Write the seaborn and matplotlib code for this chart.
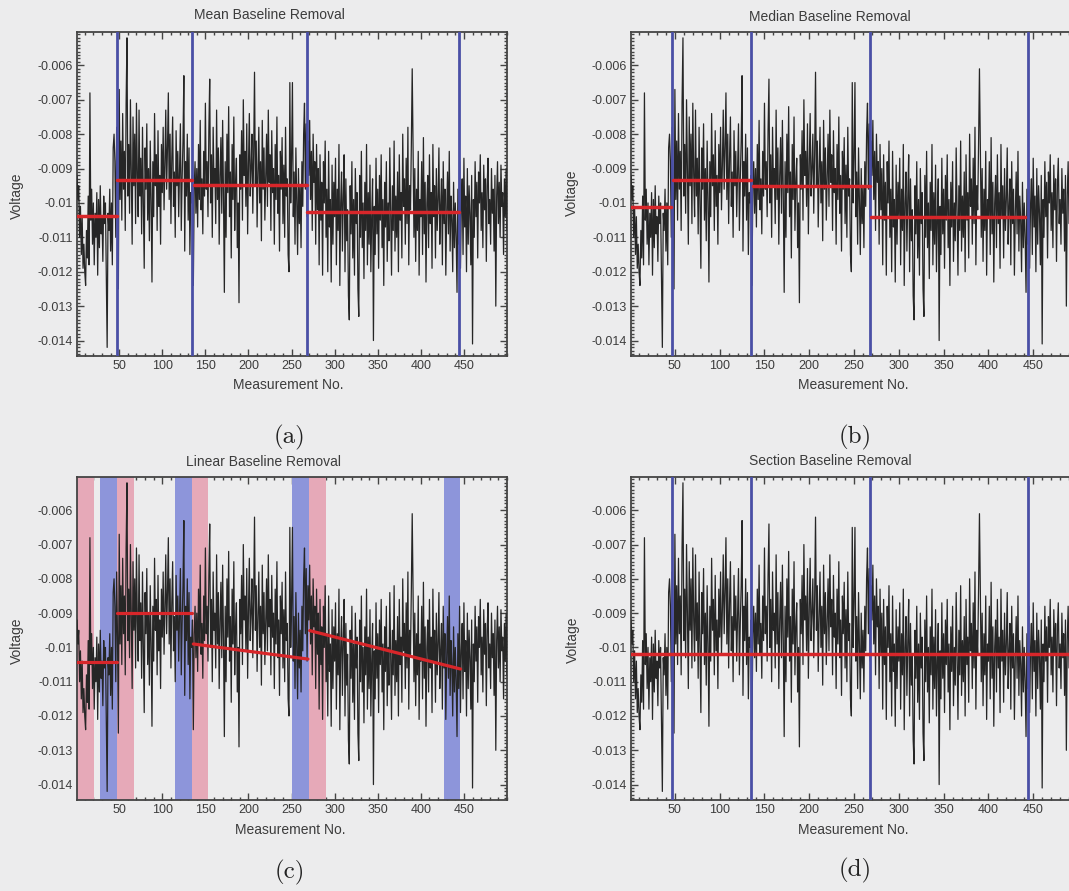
import numpy as np
import matplotlib
matplotlib.use("Agg")
import matplotlib.pyplot as plt
from matplotlib.ticker import MultipleLocator, FixedLocator, FixedFormatter
import seaborn as sns

# raw voltage trace, in units of 1e-4 V
signal_e4 = [
    -92, -99, -95, -110, -101, -115, -104, -119, -112, -120,
    -124, -108, -116, -98, -118, -68, -105, -96, -112, -100,
    -118, -103, -110, -97, -121, -99, -113, -95, -109, -104,
    -117, -98, -106, -100, -120, -142, -103, -108, -96, -114,
    -100, -118, -84, -80, -88, -110, -78, -97, -125, -67,
    -99, -82, -105, -74, -96, -85, -108, -71, -52, -98,
    -83, -103, -70, -90, -112, -75, -95, -80, -106, -71,
    -92, -104, -73, -98, -87, -109, -78, -100, -119, -84,
    -96, -77, -105, -90, -111, -82, -99, -123, -88, -104,
    -74, -95, -86, -108, -79, -101, -92, -112, -83, -97,
    -78, -102, -89, -73, -96, -84, -68, -99, -80, -106,
    -87, -75, -101, -91, -110, -79, -95, -85, -104, -90,
    -77, -108, -93, -82, -63, -114, -88, -98, -80, -105,
    -84, -115, -97, -100, -92, -124, -96, -88, -103, -90,
    -107, -83, -99, -76, -102, -93, -109, -85, -98, -71,
    -96, -88, -104, -79, -64, -100, -86, -110, -78, -95,
    -90, -106, -73, -99, -84, -112, -92, -81, -103, -76,
    -98, -126, -88, -110, -80, -97, -72, -104, -91, -116,
    -83, -99, -75, -108, -94, -87, -113, -100, -129, -86,
    -96, -79, -105, -70, -92, -85, -101, -77, -109, -89,
    -74, -98, -90, -80, -103, -86, -62, -95, -82, -107,
    -91, -78, -100, -88, -111, -76, -96, -84, -105, -93,
    -80, -101, -73, -94, -86, -108, -79, -97, -90, -112,
    -83, -99, -75, -103, -92, -114, -85, -96, -81, -106,
    -89, -110, -78, -98, -93, -115, -120, -65, -100, -87,
    -65, -104, -91, -112, -84, -99, -115, -90, -106, -95,
    -113, -88, -101, -80, -71, -96, -77, -104, -82, -92,
    -76, -99, -85, -108, -80, -94, -88, -112, -83, -102,
    -90, -118, -86, -105, -94, -121, -88, -100, -82, -110,
    -96, -120, -85, -107, -99, -123, -89, -112, -94, -104,
    -87, -118, -96, -108, -83, -124, -100, -91, -114, -98,
    -86, -120, -93, -111, -102, -127, -134, -95, -109, -88,
    -116, -99, -121, -90, -106, -97, -125, -133, -92, -110,
    -85, -113, -100, -122, -94, -108, -83, -118, -97, -112,
    -89, -120, -104, -93, -140, -101, -115, -87, -109, -96,
    -119, -92, -105, -86, -113, -99, -124, -94, -107, -88,
    -117, -100, -111, -84, -103, -121, -95, -108, -82, -114,
    -98, -110, -91, -120, -86, -105, -97, -116, -80, -101,
    -93, -112, -87, -106, -78, -118, -95, -102, -83, -61,
    -84, -110, -90, -117, -96, -108, -85, -121, -99, -104,
    -88, -115, -81, -109, -94, -123, -100, -92, -113, -86,
    -106, -97, -119, -83, -104, -95, -116, -90, -108, -99,
    -84, -112, -101, -93, -118, -88, -106, -96, -121, -103,
    -91, -109, -85, -114, -98, -105, -120, -94, -113, -100,
    -110, -126, -96, -112, -88, -119, -101, -93, -115, -87,
    -107, -98, -120, -90, -112, -95, -103, -118, -92, -141,
    -99, -110, -88, -104, -94, -116, -91, -100, -86, -108,
    -97, -113, -89, -102, -93, -117, -95, -87, -106, -99,
    -112, -90, -103, -96, -114, -92, -130, -98, -88, -106,
    -94, -110, -89, -101, -97, -115, -93, -104, -90, -108,
]

# section boundaries (measurement no.)
boundaries = [47, 135, 268, 444]

# (a) mean baseline per section
mean_start = [1, 47, 137, 268]
mean_end = [47, 135, 268, 444]
mean_level = [-0.01037, -0.00932, -0.00948, -0.01027]

# (b) median baseline per section
median_start = [1, 48, 137, 269]
median_end = [46, 135, 268, 441]
median_level = [-0.01012, -0.00934, -0.00951, -0.01041]

# (c) linear baseline fits
lin_start = [1, 47, 136, 271]
lin_end = [47, 134, 269, 446]
lin_v0 = [-0.01042, -0.00900, -0.00990, -0.00951]
lin_v1 = [-0.01042, -0.00900, -0.01034, -0.01063]
pink_bands = [(1, 21), (47, 67), (135, 153), (270, 290)]
blue_bands = [(28, 47), (115, 135), (251, 270), (427, 446)]

# (d) single section baseline
section_level = -0.01018

ytick_vals = [-0.014, -0.013, -0.012, -0.011, -0.010, -0.009, -0.008, -0.007, -0.006]
ytick_text = ["-0.014", "-0.013", "-0.012", "-0.011", "-0.01", "-0.009", "-0.008", "-0.007", "-0.006"]
xtick_vals = [50, 100, 150, 200, 250, 300, 350, 400, 450]

voltage = np.array(signal_e4) * 1e-4
measurement = np.arange(1, len(voltage) + 1)

sns.set_style("ticks")
plt.rcParams["font.family"] = ["Liberation Sans", "DejaVu Sans"]

bg = "#ececed"
W, H = 1069, 891
fig = plt.figure(figsize=(W / 100, H / 100), dpi=100, facecolor=bg)


def make_axes(left, top, right, bottom):
    ax = fig.add_axes([left / W, 1 - bottom / H, (right - left) / W, (bottom - top) / H])
    ax.set_facecolor(bg)
    ax.set_xlim(1, 500)
    ax.set_ylim(-0.01445, -0.00503)
    ax.xaxis.set_major_locator(FixedLocator(xtick_vals))
    ax.set_xticklabels([str(v) for v in xtick_vals])
    ax.xaxis.set_minor_locator(MultipleLocator(10))
    ax.yaxis.set_major_locator(FixedLocator(ytick_vals))
    ax.yaxis.set_major_formatter(FixedFormatter(ytick_text))
    ax.yaxis.set_minor_locator(MultipleLocator(0.0001))
    ax.tick_params(which="both", direction="in", top=True, right=True, color="#444444", width=1.0)
    ax.tick_params(which="major", length=5, labelsize=9, labelcolor="#3c3c3c", pad=3)
    ax.tick_params(which="minor", length=2.5)
    for s in ax.spines.values():
        s.set_color("#444444")
        s.set_linewidth(1.3)
    return ax


def draw_signal(ax):
    sns.lineplot(x=measurement, y=voltage, ax=ax, color="#262626", linewidth=0.9, zorder=3)
    ax.set_xlabel("")
    ax.set_ylabel("")


def draw_bounds(ax):
    for b in boundaries:
        ax.axvline(b, color="#4a4fa6", linewidth=2.0, zorder=4)


red = "#d8262a"
txt = dict(color="#3c3c3c", ha="center", va="center")

# (a)
ax_a = make_axes(77, 32, 507, 356)
draw_signal(ax_a)
draw_bounds(ax_a)
for s, e, v in zip(mean_start, mean_end, mean_level):
    ax_a.plot([s, e], [v, v], color=red, linewidth=2.5, zorder=5)

# (b)
ax_b = make_axes(631, 32, 1078, 356)
draw_signal(ax_b)
draw_bounds(ax_b)
for s, e, v in zip(median_start, median_end, median_level):
    ax_b.plot([s, e], [v, v], color=red, linewidth=2.5, zorder=5)

# (c)
ax_c = make_axes(77, 477, 507, 800)
for lo, hi in pink_bands:
    ax_c.axvspan(lo, hi, color="#e6a9b8", linewidth=0, zorder=1)
for lo, hi in blue_bands:
    ax_c.axvspan(lo, hi, color="#8d95da", linewidth=0, zorder=1)
draw_signal(ax_c)
for s, e, v0, v1 in zip(lin_start, lin_end, lin_v0, lin_v1):
    ax_c.plot([s, e], [v0, v1], color=red, linewidth=2.3, zorder=5)

# (d)
ax_d = make_axes(631, 477, 1078, 800)
draw_signal(ax_d)
draw_bounds(ax_d)
ax_d.axhline(section_level, color=red, linewidth=2.5, zorder=5)

# titles, axis labels, captions
titles = ["Mean Baseline Removal", "Median Baseline Removal", "Linear Baseline Removal", "Section Baseline Removal"]
title_xy = [(269, 15), (830, 17), (264, 462), (830, 461)]
xlabel_xy = [(288, 385), (853, 385), (290, 830), (853, 830)]
ylabel_xy = [(17, 196), (572, 193), (17, 641), (573, 640)]
captions = ["(a)", "(b)", "(c)", "(d)"]
caption_xy = [(290, 437), (855, 437), (290, 872), (855, 870)]

for t, (tx, ty), (lx, ly), (vx, vy), c, (cx, cy) in zip(titles, title_xy, xlabel_xy, ylabel_xy, captions, caption_xy):
    fig.text(tx / W, 1 - ty / H, t, fontsize=10, **txt)
    fig.text(lx / W, 1 - ly / H, "Measurement No.", fontsize=10, **txt)
    fig.text(vx / W, 1 - vy / H, "Voltage", fontsize=10, rotation=90, **txt)
    fig.text(cx / W, 1 - cy / H, c, fontsize=18, family=["cmr10", "DejaVu Serif"], color="#222222", ha="center", va="center")

fig.savefig("out.png", dpi=100, facecolor=bg)
